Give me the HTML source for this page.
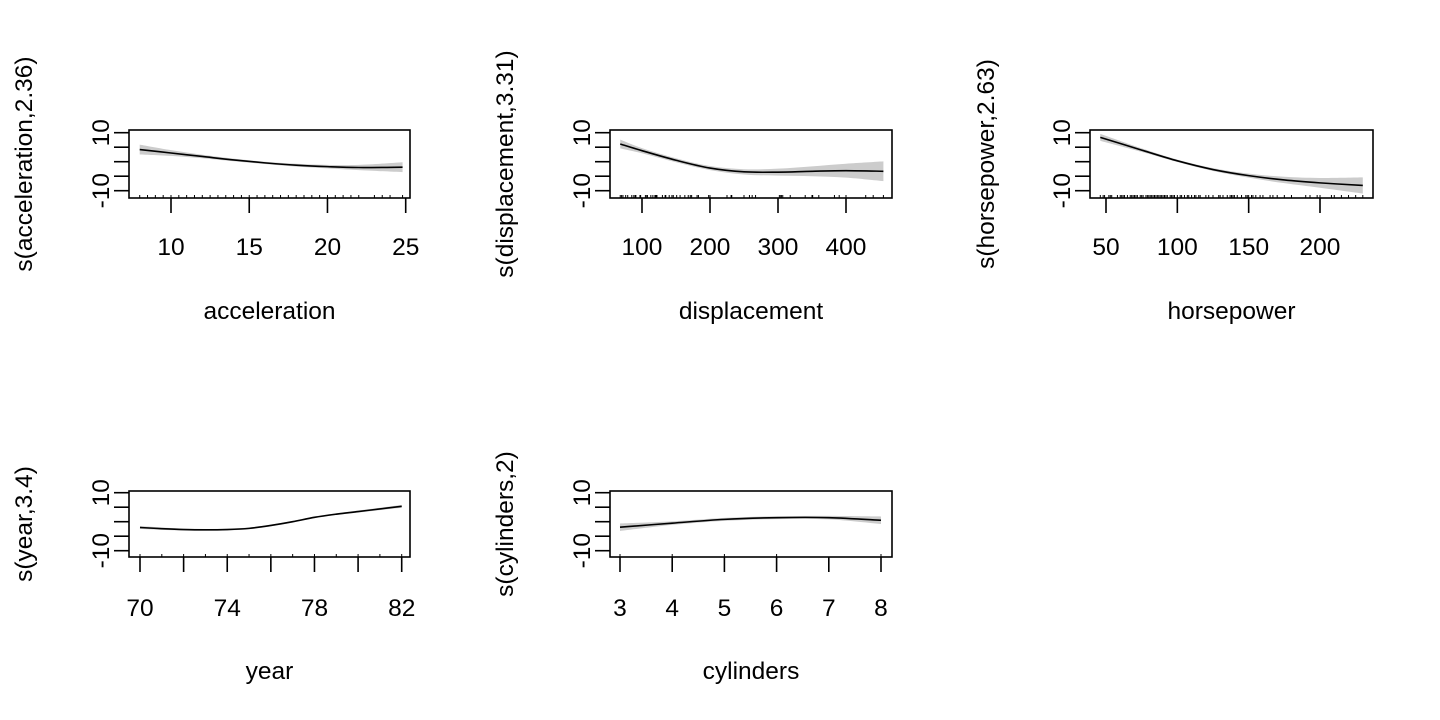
<!DOCTYPE html>
<html><head><meta charset="utf-8"><style>
html,body{margin:0;padding:0;background:#fff;}
svg{display:block;font-family:"Liberation Sans",Arial,sans-serif;}
</style></head><body>
<svg id="fig" width="1440" height="720"></svg>
<script>
// ---- data ----
const accX=[8,10,12,14,16,18,20,22,24.8];
const accY=[4.2,3.0,1.8,0.6,-0.4,-1.2,-1.7,-2.0,-1.9];
const accSE=[1.7,1.0,0.6,0.45,0.4,0.5,0.6,0.9,1.7];
const dispX=[68,100,150,200,250,300,350,400,455];
const dispY=[6.1,3.8,0.5,-2.2,-3.5,-3.6,-3.3,-3.1,-3.3];
const dispSE=[1.5,0.9,0.7,0.7,0.9,1.2,1.7,2.4,3.4];
const hpX=[46,75,100,125,150,175,200,230];
const hpY=[8.4,4.0,0.3,-2.7,-4.8,-6.3,-7.3,-8.2];
const hpSE=[1.2,0.6,0.4,0.5,0.7,1.1,1.7,2.8];
const yrX=[70,71,72,73,74,75,76,77,78,79,80,81,82];
const yrY=[-2.0,-2.4,-2.7,-2.8,-2.7,-2.3,-1.3,0.0,1.5,2.6,3.5,4.4,5.3];
const yrSE=[0.5,0.4,0.35,0.3,0.3,0.3,0.3,0.3,0.3,0.3,0.35,0.4,0.5];
const cylX=[3,4,5,6,7,8];
const cylY=[-1.9,-0.5,0.8,1.4,1.4,0.5];
const cylSE=[1.3,0.6,0.5,0.5,0.6,1.3];
const accTicks=[10,15,20,25];
const dispTicks=[100,200,300,400];
const hpTicks=[50,100,150,200];
const yrTicks=[70,72,74,76,78,80,82];
const yrLabels=[70,74,78,82];
const cylTicks=[3,4,5,6,7,8];
const yTicks=[10,5,0,-5,-10];
const yLabels=[10,-10];
const accRug=[8,8.5,9,9.5,10,10.5,11,11.5,12,12.5,13,13.5,14,14.5,15,15.5,16,16.5,17,17.5,18,18.5,19,19.5,20,20.5,21,21.5,22,23,23.5,24,24.8];
const dispRug=[68,70,72,76,79,85,88,90,91,97,98,105,107,108,113,116,119,120,121,122,130,134,135,140,144,146,151,156,163,168,171,173,181,183,198,200,225,231,232,250,258,262,267,302,304,305,307,318,340,350,351,360,383,390,400,429,440,455];
const hpRug=[46,48,49,52,53,54,58,60,61,62,63,65,67,68,69,70,71,72,74,75,76,78,79,80,81,82,83,84,85,86,87,88,89,90,91,92,93,95,96,97,98,100,102,103,105,107,108,110,112,113,115,116,120,122,125,129,130,132,135,137,138,139,140,142,145,148,149,150,152,153,155,158,160,165,167,170,175,180,190,193,198,200,208,210,215,220,225,230];
const yrRug=[70,71,72,73,74,75,76,77,78,79,80,81,82];
const cylRug=[3,4,5,6,8];

const panels=[
 {name:'acceleration',title:'s(acceleration,2.36)',x:accX,y:accY,se:accSE,ticks:accTicks,labels:accTicks,rug:accRug,
  box:[129,410,130,198],xmap:[10,171,25,405.7],ymap:[10,132.7,-10,190.7],tickY:246,labY:310,titleX:22},
 {name:'displacement',title:'s(displacement,3.31)',x:dispX,y:dispY,se:dispSE,ticks:dispTicks,labels:dispTicks,rug:dispRug,
  box:[610,892,130,198],xmap:[100,642,400,846],ymap:[10,132.7,-10,190.7],tickY:246,labY:310,titleX:503},
 {name:'horsepower',title:'s(horsepower,2.63)',x:hpX,y:hpY,se:hpSE,ticks:hpTicks,labels:hpTicks,rug:hpRug,
  box:[1090,1373,130,198],xmap:[50,1106,200,1320],ymap:[10,132.7,-10,190.7],tickY:246,labY:310,titleX:984},
 {name:'year',title:'s(year,3.4)',x:yrX,y:yrY,se:yrSE,ticks:yrTicks,labels:yrLabels,rug:yrRug,
  box:[129,410,491,557],xmap:[70,140,82,401.7],ymap:[10,492.7,-10,550.7],tickY:607,labY:670,titleX:22},
 {name:'cylinders',title:'s(cylinders,2)',x:cylX,y:cylY,se:cylSE,ticks:cylTicks,labels:cylTicks,rug:cylRug,
  box:[610,892,491,557],xmap:[3,620,8,881],ymap:[10,492.7,-10,550.7],tickY:607,labY:670,titleX:503}
];
const FS=24.5;
const NS='http://www.w3.org/2000/svg';
const svg=document.getElementById('fig');
function mk(tag,attrs,parent){const e=document.createElementNS(NS,tag);for(const k in attrs)e.setAttribute(k,attrs[k]);(parent||svg).appendChild(e);return e;}
function smooth(pts){
 let d='M'+pts[0][0].toFixed(2)+','+pts[0][1].toFixed(2);
 for(let i=0;i<pts.length-1;i++){
  const p0=pts[Math.max(0,i-1)],p1=pts[i],p2=pts[i+1],p3=pts[Math.min(pts.length-1,i+2)];
  const c1=[p1[0]+(p2[0]-p0[0])/6,p1[1]+(p2[1]-p0[1])/6];
  const c2=[p2[0]-(p3[0]-p1[0])/6,p2[1]-(p3[1]-p1[1])/6];
  d+=' C'+c1.map(v=>v.toFixed(2)).join(',')+' '+c2.map(v=>v.toFixed(2)).join(',')+' '+p2[0].toFixed(2)+','+p2[1].toFixed(2);
 }
 return d;
}
function smoothCont(pts){return smooth(pts).replace(/^M/,'L');}
panels.forEach(p=>{
 const g=mk('g',{});
 
 
 const sx=v=>p.xmap[1]+(v-p.xmap[0])*(p.xmap[3]-p.xmap[1])/(p.xmap[2]-p.xmap[0]);
 const sy=v=>p.ymap[1]+(v-p.ymap[0])*(p.ymap[3]-p.ymap[1])/(p.ymap[2]-p.ymap[0]);
 const [x0,x1,y0,y1]=p.box;
 const up=p.x.map((v,i)=>[sx(v),sy(p.y[i]+p.se[i])]);
 const lo=p.x.map((v,i)=>[sx(v),sy(p.y[i]-p.se[i])]).reverse();
 const band=mk('path',{d:smooth(up)+' '+smoothCont(lo)+' Z',fill:'#cccccc',stroke:'none'},g);
 
 
 const line=mk('path',{d:smooth(p.x.map((v,i)=>[sx(v),sy(p.y[i])])),fill:'none',stroke:'#000','stroke-width':1.6},g);
 
 
 p.rug.forEach(v=>{const r=mk('line',{x1:sx(v),x2:sx(v),y1:y1,y2:y1-3,stroke:'#000','stroke-width':1},g);
  
  });
 const b=mk('rect',{x:x0,y:y0,width:x1-x0,height:y1-y0,fill:'none',stroke:'#000','stroke-width':1.6},g);
 
 
 p.ticks.forEach(v=>{const t=mk('line',{x1:sx(v),x2:sx(v),y1:y1,y2:y1+15,stroke:'#000','stroke-width':1.6},g);
  
  });
 p.labels.forEach(v=>{const t=mk('text',{x:sx(v),y:p.tickY+9,'text-anchor':'middle','font-size':FS},g);t.textContent=v;
  
  });
 yTicks.forEach(v=>{const t=mk('line',{x1:x0,x2:x0-15,y1:sy(v),y2:sy(v),stroke:'#000','stroke-width':1.6},g);
  
  });
 yLabels.forEach(v=>{const yy=sy(v);const t=mk('text',{x:0,y:0,transform:`translate(${x0-20},${yy}) rotate(-90)`,'text-anchor':'middle','font-size':FS},g);t.textContent=v;
  
  });
 const xt=mk('text',{x:(x0+x1)/2,y:p.labY+9,'text-anchor':'middle','font-size':FS},g);xt.textContent=p.name;
 
 
 const yt=mk('text',{x:0,y:0,transform:`translate(${p.titleX+10},${(y0+y1)/2}) rotate(-90)`,'text-anchor':'middle','font-size':FS},g);yt.textContent=p.title;
 
 
});
</script>
</body></html>
